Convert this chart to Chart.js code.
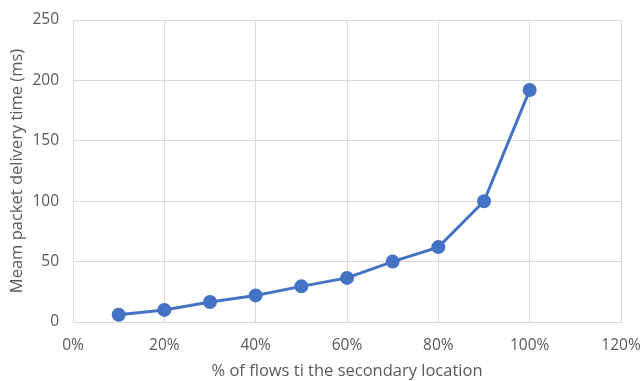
<!DOCTYPE html>
<html>
<head>
<meta charset="utf-8">
<script src="https://cdn.jsdelivr.net/npm/chart.js@4"></script>
<style>
  html, body { margin: 0; padding: 0; background: #fff; }
  #wrap { width: 641px; height: 381px; }
</style>
</head>
<body>
<div id="wrap"><canvas id="chart" width="641" height="381"></canvas></div>
<script>
// share of flows sent to the secondary location
const flowShare = [0.1, 0.2, 0.3, 0.4, 0.5, 0.6, 0.7, 0.8, 0.9, 1.0];
// mean packet delivery time in ms
const delayMs = [6, 10, 16.5, 22, 29.5, 36.5, 50, 62, 100, 192];

const xTicks = [0, 0.2, 0.4, 0.6, 0.8, 1.0, 1.2];
const yTicks = [0, 50, 100, 150, 200, 250];

const fontFamily = "'Open Sans', 'Liberation Sans', sans-serif";
const grey = "#595959";

const points = flowShare.map((x, i) => ({ x: x, y: delayMs[i] }));

new Chart(document.getElementById("chart"), {
    type: "line",
    data: {
        datasets: [{
            data: points,
            borderColor: "#4472C4",
            backgroundColor: "#4472C4",
            borderWidth: 3,
            pointRadius: 5.5,
            pointHoverRadius: 5.5,
            tension: 0
        }]
    },
    options: {
        responsive: false,
        animation: false,
        layout: { padding: 0 },
        plugins: { legend: { display: false }, tooltip: { enabled: false } },
        scales: {
            x: {
                type: "linear",
                min: xTicks[0],
                max: xTicks[xTicks.length - 1],
                afterBuildTicks: axis => { axis.ticks = xTicks.map(v => ({ value: v })); },
                afterFit: axis => {
                    axis.height = 59;
                    axis.paddingLeft = 0;
                    axis.paddingRight = 20;
                },
                ticks: {
                    color: grey,
                    font: { family: fontFamily, size: 15.5 },
                    padding: 14,
                    maxRotation: 0,
                    minRotation: 0,
                    callback: v => Math.round(v * 100) + "%"
                },
                grid: { color: "#d9d9d9", lineWidth: 1, drawTicks: false },
                border: { color: "#d9d9d9" },
                title: {
                    display: true,
                    text: "% of flows ti the secondary location",
                    color: grey,
                    font: { family: fontFamily, size: 16.5 },
                    padding: { top: 0, bottom: 0 }
                }
            },
            y: {
                min: 0,
                max: 250,
                afterBuildTicks: axis => { axis.ticks = yTicks.map(v => ({ value: v })); },
                afterFit: axis => {
                    axis.width = 73;
                    axis.paddingTop = 20;
                    axis.paddingBottom = 0;
                },
                ticks: {
                    color: grey,
                    font: { family: fontFamily, size: 15.5 },
                    padding: 14
                },
                grid: { color: "#d9d9d9", lineWidth: 1, drawTicks: false },
                border: { color: "#d9d9d9" },
                title: {
                    display: true,
                    text: "Meam packet delivery time (ms)",
                    color: grey,
                    font: { family: fontFamily, size: 16.5 },
                    padding: { top: 7, bottom: 0 }
                }
            }
        }
    }
});
</script>
</body>
</html>
